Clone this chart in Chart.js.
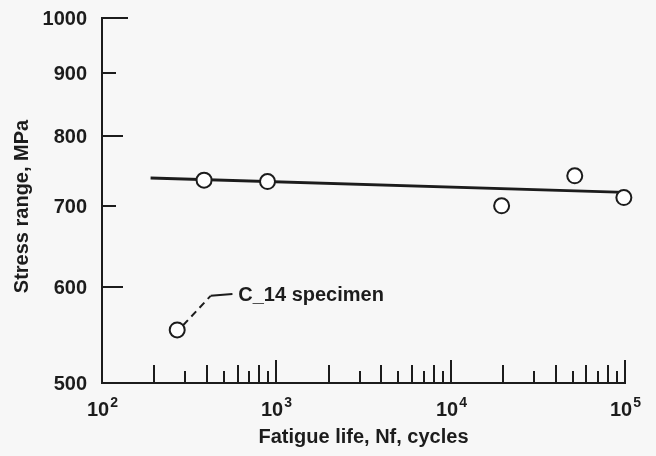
<!DOCTYPE html>
<html>
<head>
<meta charset="utf-8">
<script src="https://cdn.jsdelivr.net/npm/chart.js@4.4.0/dist/chart.umd.min.js"></script>
<style>
  html, body { margin: 0; padding: 0; background: #f7f7f7; }
  #wrap { width: 656px; height: 456px; }
</style>
</head>
<body>
<div id="wrap"><canvas id="fatigueChart"></canvas></div>
<script>
// specimens: fatigue life (cycles) vs stress range (MPa)
const lifeCycles = [270, 385, 890, 19600, 51500, 98500];
const stressRange = [553, 735, 733, 700, 741, 711];

// fitted line end points
const fitLife = [190, 100000];
const fitStress = [738, 718];

// leader from the C_14 point to its note
const leaderLife = [292, 420];
const leaderStress = [558, 590];
const leaderTailLife = [420, 560];
const leaderTailStress = [590, 592];
const noteText = "C_14 specimen";
const noteLife = 605;
const noteStress = 592;

// axis ticks
const yTicks = [500, 600, 700, 800, 900, 1000];
const xExponents = [2, 3, 4, 5];
const xMinorSteps = [2, 3, 4, 5, 6, 7, 8, 9];

const xTitle = "Fatigue life, Nf, cycles";
const yTitle = "Stress range, MPa";

const ink = "#1c1c1c";
const font = "'Liberation Sans', Arial, sans-serif";

const toPoints = (xs, ys) => xs.map((v, i) => ({ x: v, y: ys[i] }));

// ticks point inward, labels and titles drawn by hand
const axisDecor = {
    id: "axisDecor",
    afterDraw(chart) {
        const { ctx, chartArea, scales: { x, y } } = chart;
        ctx.save();
        ctx.strokeStyle = ink;
        ctx.fillStyle = ink;
        ctx.lineWidth = 2;

        const line = (x1, y1, x2, y2) => {
            ctx.beginPath();
            ctx.moveTo(x1, y1);
            ctx.lineTo(x2, y2);
            ctx.stroke();
        };

        // y ticks + labels
        ctx.font = "bold 20px " + font;
        ctx.textAlign = "right";
        ctx.textBaseline = "middle";
        yTicks.forEach((v) => {
            const py = Math.round(y.getPixelForValue(v));
            const len = v === 1000 ? 26 : (v % 200 === 0 ? 21 : 14);
            if (v !== 500) line(chartArea.left, py, chartArea.left + len, py);
            ctx.fillText(String(v), chartArea.left - 15, py + 1);
        });

        // x ticks: decades tallest, even steps taller than odd
        xExponents.forEach((e, i) => {
            const px = Math.round(x.getPixelForValue(Math.pow(10, e)));
            if (i > 0) line(px, chartArea.bottom, px, chartArea.bottom - 23);
            if (i < xExponents.length - 1) {
                xMinorSteps.forEach((m) => {
                    const mx = Math.round(x.getPixelForValue(m * Math.pow(10, e)));
                    const len = m % 2 === 0 ? 18 : 12;
                    line(mx, chartArea.bottom, mx, chartArea.bottom - len);
                });
            }
            // label 10^e
            ctx.textBaseline = "alphabetic";
            ctx.textAlign = "left";
            ctx.font = "bold 20px " + font;
            const wBase = ctx.measureText("10").width;
            ctx.font = "bold 14px " + font;
            const wExp = ctx.measureText(String(e)).width;
            const left = px - (wBase + wExp) / 2;
            ctx.font = "bold 20px " + font;
            ctx.fillText("10", left, chartArea.bottom + 33);
            ctx.font = "bold 14px " + font;
            ctx.fillText(String(e), left + wBase + 1, chartArea.bottom + 24);
        });

        // axis titles
        ctx.font = "bold 20px " + font;
        ctx.textAlign = "center";
        ctx.textBaseline = "alphabetic";
        ctx.fillText(xTitle, (chartArea.left + chartArea.right) / 2, chartArea.bottom + 60);

        ctx.save();
        ctx.translate(28, (chartArea.top + chartArea.bottom) / 2 + 6);
        ctx.rotate(-Math.PI / 2);
        ctx.textBaseline = "alphabetic";
        ctx.fillText(yTitle, 0, 0);
        ctx.restore();

        // note
        ctx.textAlign = "left";
        ctx.textBaseline = "middle";
        ctx.fillText(noteText, x.getPixelForValue(noteLife), y.getPixelForValue(noteStress) + 1);

        ctx.restore();
    }
};

new Chart(document.getElementById("fatigueChart"), {
    type: "scatter",
    data: {
        datasets: [
            {
                label: "Specimens",
                data: toPoints(lifeCycles, stressRange),
                showLine: false,
                pointStyle: "circle",
                pointRadius: 7.5,
                pointBackgroundColor: "#ffffff",
                pointBorderColor: ink,
                pointBorderWidth: 2,
                order: 0,
                clip: false
            },
            {
                label: "Fit",
                data: toPoints(fitLife, fitStress),
                showLine: true,
                borderColor: ink,
                borderWidth: 2.8,
                pointRadius: 0,
                order: 1,
                clip: false
            },
            {
                label: "Leader",
                data: toPoints(leaderLife, leaderStress),
                showLine: true,
                borderColor: ink,
                borderWidth: 2,
                borderDash: [7, 5],
                pointRadius: 0,
                order: 2,
                clip: false
            },
            {
                label: "Leader tail",
                data: toPoints(leaderTailLife, leaderTailStress),
                showLine: true,
                borderColor: ink,
                borderWidth: 2,
                pointRadius: 0,
                order: 2,
                clip: false
            }
        ]
    },
    options: {
        responsive: true,
        maintainAspectRatio: false,
        animation: false,
        events: [],
        layout: { padding: { left: 102, right: 31, top: 18, bottom: 73 } },
        plugins: {
            legend: { display: false },
            tooltip: { enabled: false }
        },
        scales: {
            x: {
                type: "logarithmic",
                min: 100,
                max: 100000,
                ticks: { display: false },
                grid: { display: false, drawTicks: false },
                border: { display: true, color: ink, width: 2 }
            },
            y: {
                type: "logarithmic",
                min: 500,
                max: 1000,
                ticks: { display: false },
                grid: { display: false, drawTicks: false },
                border: { display: true, color: ink, width: 2 }
            }
        }
    },
    plugins: [axisDecor]
});
</script>
</body>
</html>
